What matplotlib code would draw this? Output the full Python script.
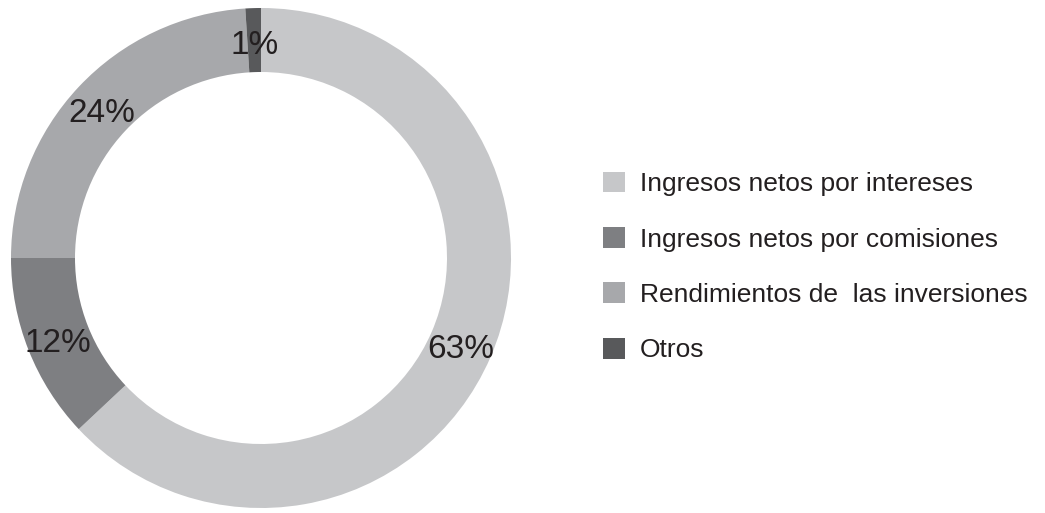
import matplotlib.pyplot as plt
import matplotlib.transforms as mtransforms
from matplotlib.patches import Patch

plt.rcParams['font.family'] = ['Liberation Sans', 'DejaVu Sans']

# Dane
kategorie = ['Ingresos netos por intereses', 'Ingresos netos por comisiones',
             'Rendimientos de  las inversiones', 'Otros']
udzialy = [63, 12, 24, 1]
etykiety = ['63%', '12%', '24%', '1%']
kolory = ['#c6c7c9', '#7e7f82', '#a7a8ab', '#58595b']

fig = plt.figure(figsize=(10.45, 5.13), dpi=100)
ax = fig.add_axes([11 / 1045, 5 / 513, 500 / 1045, 500 / 513])

# Wykres pierscieniowy, od gory zgodnie z ruchem wskazowek zegara
wedges, teksty = ax.pie(udzialy, colors=kolory, startangle=90, counterclock=False,
                        radius=1, labels=etykiety, labeldistance=0.872,
                        wedgeprops=dict(width=0.256, linewidth=0),
                        textprops=dict(fontsize=24, color='#231f20',
                                       ha='center', va='center'))
# lekkie przesuniecie etykiet w dol
przesuniecie = mtransforms.ScaledTranslation(0, -5 / 100, fig.dpi_scale_trans)
for t in teksty:
    t.set_transform(t.get_transform() + przesuniecie)

ax.set_xlim(-1, 1)
ax.set_ylim(-1, 1)
ax.set_aspect('equal')
ax.axis('off')

# Legenda
uchwyty = [Patch(facecolor=k, edgecolor='none') for k in kolory]
fig.legend(uchwyty, kategorie, loc='center left',
           bbox_to_anchor=(603 / 1045, (513 - 267) / 513),
           frameon=False, fontsize=19, handlelength=0.83, handleheight=0.83,
           handletextpad=0.58, labelspacing=1.17, borderpad=0, borderaxespad=0,
           labelcolor='#231f20')

fig.savefig('out.png', dpi=100)
